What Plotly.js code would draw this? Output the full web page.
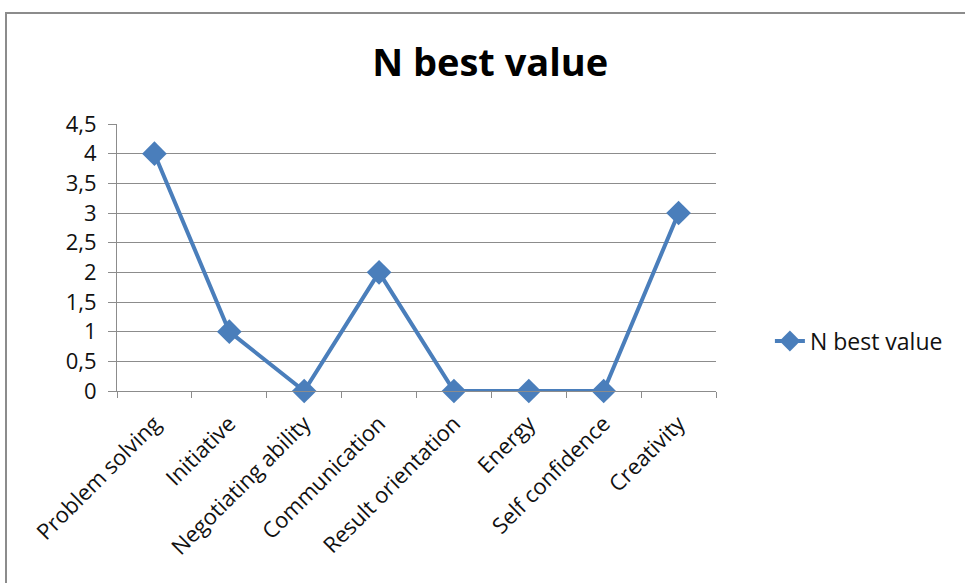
<!DOCTYPE html>
<html>
<head>
<meta charset="utf-8">
<script src="https://cdn.plot.ly/plotly-3.0.1.min.js"></script>
<style>
  html, body { margin: 0; padding: 0; background: #fff; }
  #wrap { position: relative; width: 965px; height: 583px; overflow: hidden; }
  #chart { position: absolute; left: 0; top: 0; width: 965px; height: 583px; }
  #frame { position: absolute; left: 5px; top: 12px; width: 1000px; height: 620px;
           border: 2px solid #8c8c8c; pointer-events: none; box-sizing: border-box; }
</style>
</head>
<body>
<div id="wrap">
  <div id="chart"></div>
  <div id="frame"></div>
</div>
<script>
// Competency categories and their "N best value" counts
const categories = [
  "Problem solving", "Initiative", "Negotiating ability", "Communication",
  "Result orientation", "Energy", "Self confidence", "Creativity"
];
const bestValues = [4, 1, 0, 2, 0, 0, 0, 3];
const seriesName = "N best value";
const yTickVals = [0, 0.5, 1, 1.5, 2, 2.5, 3, 3.5, 4, 4.5];

const lineColor = "#4a7ebb";
const fontFamily = "Open Sans, Noto Sans, sans-serif";

const trace = {
  type: "scatter",
  mode: "lines+markers",
  name: seriesName,
  x: categories,
  y: bestValues,
  line: { color: lineColor, width: 4 },
  marker: { symbol: "diamond", size: 19, color: lineColor },
  cliponaxis: false
};

const layout = {
  width: 965,
  height: 583,
  margin: { l: 117, r: 249, t: 124, b: 192 },
  paper_bgcolor: "#ffffff",
  plot_bgcolor: "#ffffff",
  separators: ", ",
  title: {
    text: "<b>N best value</b>",
    font: { family: fontFamily, size: 38, color: "#000" },
    x: 0.508, xanchor: "center",
    y: 0.892, yanchor: "middle"
  },
  xaxis: {
    type: "category",
    tickson: "boundaries",
    ticks: "outside",
    ticklen: 6,
    tickcolor: "#8c8c8c",
    showgrid: false,
    showline: true,
    linecolor: "#8c8c8c",
    linewidth: 1,
    tickangle: -45,
    ticklabelstandoff: 10,
    tickfont: { family: fontFamily, size: 22, color: "#111" },
    range: [-0.5, 7.5]
  },
  yaxis: {
    range: [0, 4.5],
    tickvals: yTickVals,
    ticks: "outside",
    ticklen: 8,
    tickcolor: "#8c8c8c",
    showgrid: true,
    gridcolor: "#8c8c8c",
    gridwidth: 1,
    showline: true,
    linecolor: "#8c8c8c",
    linewidth: 1,
    zeroline: false,
    ticklabelstandoff: 7,
    tickfont: { family: fontFamily, size: 22, color: "#111" }
  },
  showlegend: true,
  legend: {
    x: 1.09, xanchor: "left",
    y: 0.187, yanchor: "middle",
    font: { family: fontFamily, size: 23, color: "#111" },
    bgcolor: "rgba(0,0,0,0)"
  }
};

Plotly.newPlot("chart", [trace], layout, { displayModeBar: false, staticPlot: true });
</script>
</body>
</html>
